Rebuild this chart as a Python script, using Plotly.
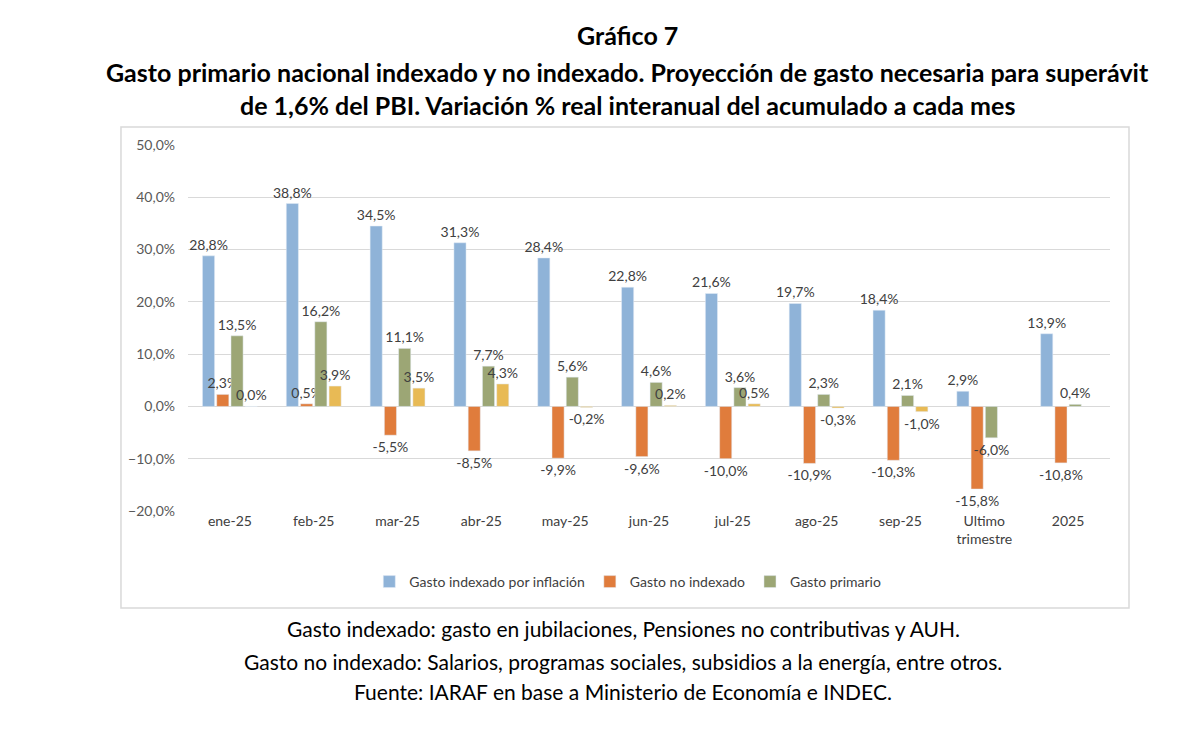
import plotly.graph_objects as go

categories = ["ene-25", "feb-25", "mar-25", "abr-25", "may-25", "jun-25",
              "jul-25", "ago-25", "sep-25", "Ultimo<br>trimestre", "2025"]
indexado = [28.8, 38.8, 34.5, 31.3, 28.4, 22.8, 21.6, 19.7, 18.4, 2.9, 13.9]
no_indexado = [2.3, 0.5, -5.5, -8.5, -9.9, -9.6, -10.0, -10.9, -10.3, -15.8, -10.8]
primario = [13.5, 16.2, 11.1, 7.7, 5.6, 4.6, 3.6, 2.3, 2.1, -6.0, 0.4]
proyeccion = [0.0, 3.9, 3.5, 4.3, -0.2, 0.2, 0.5, -0.3, -1.0, None, None]

FONT = "Lato, 'Open Sans', sans-serif"

def fmt(vals):
    return ["" if v is None else (f"{v:.1f}%".replace(".", ",")) for v in vals]

fig = go.Figure()
series = [
    ("Gasto indexado por inflación", indexado, "#8FB3D8", True),
    ("Gasto no indexado", no_indexado, "#E07C3C", True),
    ("Gasto primario", primario, "#9CA675", True),
    ("Proyección", proyeccion, "#E8BA55", False),
]
for name, vals, col, show in series:
    fig.add_trace(go.Bar(
        x=categories, y=vals, name=name, marker_color=col,
        showlegend=show, text=fmt(vals), textposition="outside",
        textfont=dict(size=14, color="#404040", family=FONT),
        constraintext="none", cliponaxis=False,
    ))

fig.update_layout(
    width=1200, height=730,
    paper_bgcolor="white", plot_bgcolor="white",
    barmode="group", bargap=0.32, bargroupgap=0.15,
    separators=",.",
    margin=dict(l=188, r=90, t=145, b=219),
    font=dict(family=FONT, color="#404040"),
    showlegend=True,
    legend=dict(orientation="h", x=0.477, xanchor="center", y=-0.194, yanchor="middle",
                font=dict(size=14, color="#404040"), itemwidth=30, traceorder="normal"),
    xaxis=dict(showgrid=False, showline=False, ticks="", tickfont=dict(size=14, color="#404040")),
    yaxis=dict(range=[-20, 50], dtick=10, tickformat=".1f", ticksuffix="%",
               gridcolor="#D9D9D9", zeroline=True, zerolinecolor="#D9D9D9", zerolinewidth=1,
               tickfont=dict(size=14, color="#595959"), ticklabelstandoff=12),
    shapes=[dict(type="rect", xref="paper", yref="paper",
                 x0=-0.0727, x1=1.0206, y0=-0.265, y1=1.0492,
                 line=dict(color="#D9D9D9", width=1.5), layer="below")],
    annotations=[
        dict(text="<b>Gráfico 7</b>", xref="paper", yref="paper", x=0.477, y=1.3, showarrow=False,
             font=dict(size=25, color="black"), xanchor="center", yanchor="middle"),
        dict(text="<b>Gasto primario nacional indexado y no indexado. Proyección de gasto necesaria para superávit</b>",
             xref="paper", yref="paper", x=0.477, y=1.2, showarrow=False,
             font=dict(size=25, color="black"), xanchor="center", yanchor="middle"),
        dict(text="<b>de 1,6% del PBI. Variación % real interanual del acumulado a cada mes</b>",
             xref="paper", yref="paper", x=0.477, y=1.11, showarrow=False,
             font=dict(size=25, color="black"), xanchor="center", yanchor="middle"),
        dict(text="Gasto indexado: gasto en jubilaciones, Pensiones no contributivas y AUH.",
             xref="paper", yref="paper", x=0.472, y=-0.322, showarrow=False,
             font=dict(size=21, color="black"), xanchor="center", yanchor="middle"),
        dict(text="Gasto no indexado: Salarios, programas sociales, subsidios a la energía, entre otros.",
             xref="paper", yref="paper", x=0.472, y=-0.41, showarrow=False,
             font=dict(size=21, color="black"), xanchor="center", yanchor="middle"),
        dict(text="Fuente: IARAF en base a Ministerio de Economía e INDEC.",
             xref="paper", yref="paper", x=0.472, y=-0.494, showarrow=False,
             font=dict(size=21, color="black"), xanchor="center", yanchor="middle"),
    ],
)

fig.write_html("out.html")
